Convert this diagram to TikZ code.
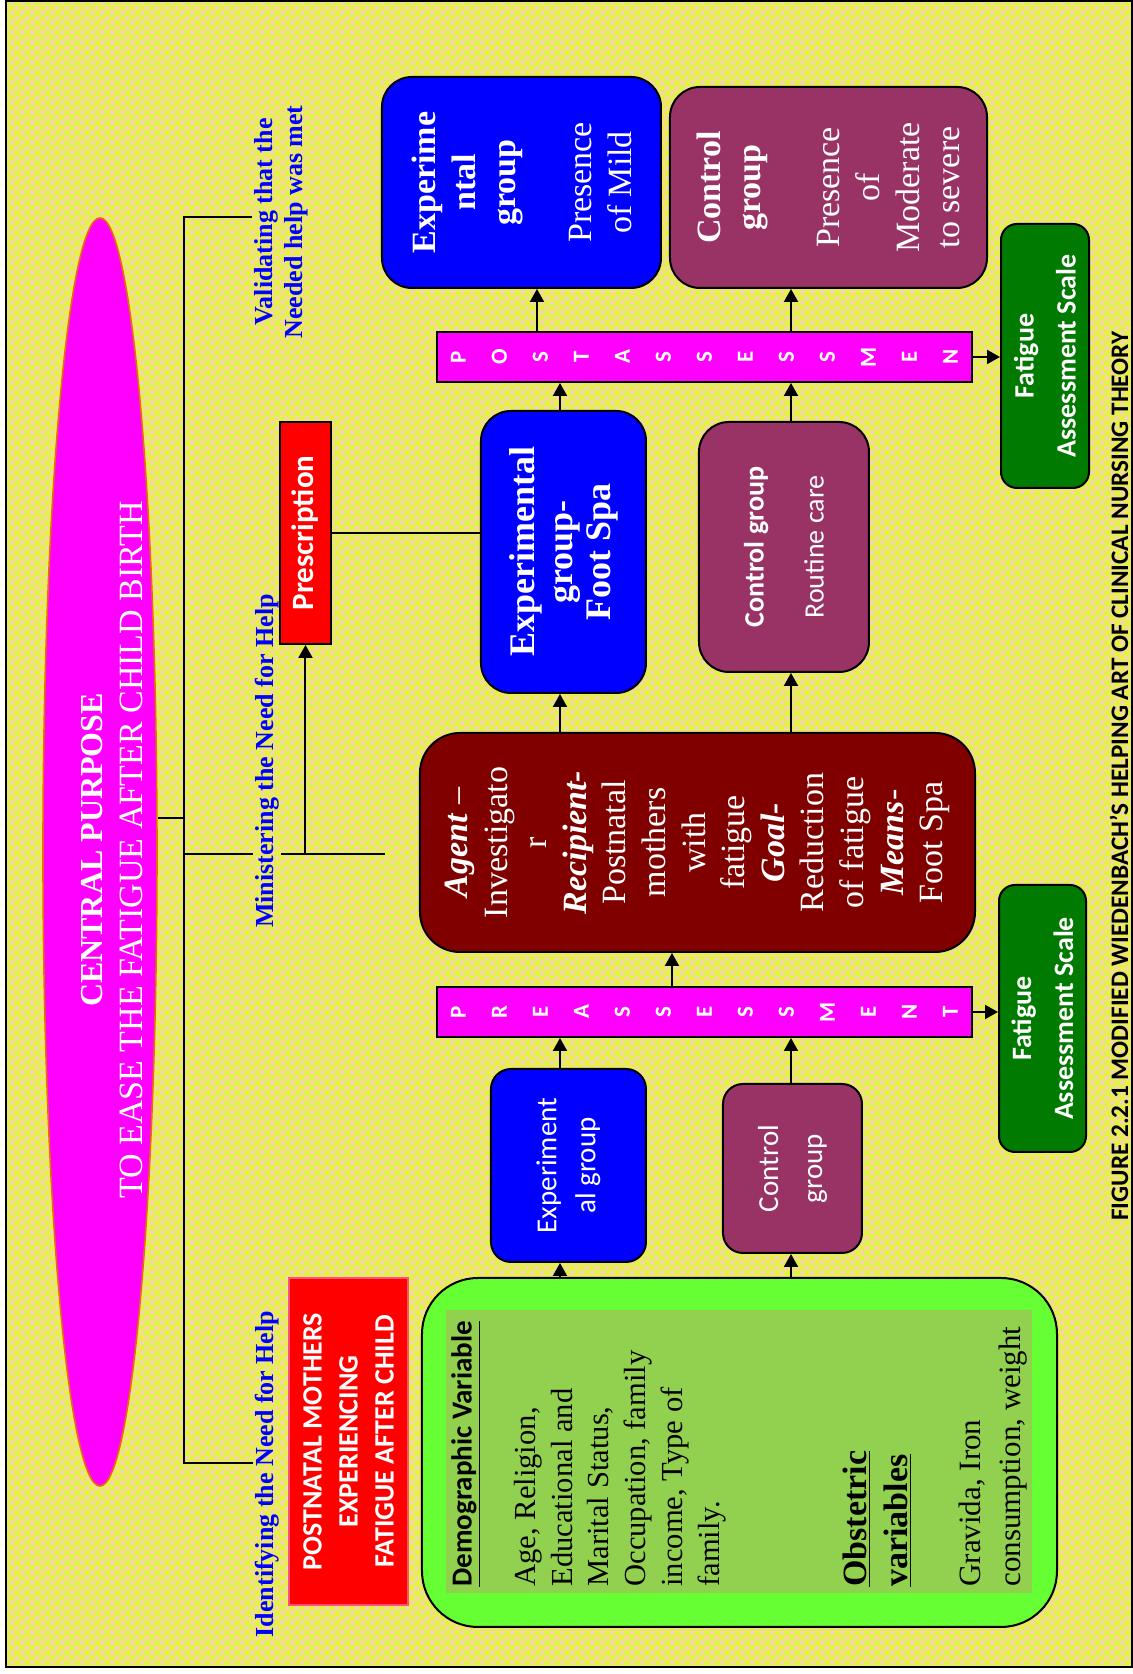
\documentclass[tikz,border=0pt]{standalone}
\usepackage{fontspec}
\setmainfont{Liberation Serif}
\setsansfont{Carlito}
\usepackage{tikz}
\usetikzlibrary{arrows.meta, positioning, shapes.geometric, patterns.meta}

\definecolor{bgyellow}{RGB}{226,245,62}
\definecolor{bgpeach}{RGB}{247,212,170}
\definecolor{pinkviolet}{RGB}{255,0,255}
\definecolor{plum}{RGB}{153,51,102}
\definecolor{agentred}{RGB}{128,0,0}
\definecolor{scalegreen}{RGB}{0,122,0}
\definecolor{limegreen}{RGB}{102,255,51}
\definecolor{olivegreen}{RGB}{146,208,80}
\definecolor{edgeorange}{RGB}{228,108,10}
\definecolor{pinkedge}{RGB}{255,80,120}

\tikzdeclarepattern{
  name=checker,
  type=uncolored,
  bounding box={(0pt,0pt) and (5pt,5pt)},
  tile size={(5pt,5pt)},
  code={
    \fill (0pt,0pt) rectangle (2.5pt,2.5pt);
    \fill (2.5pt,2.5pt) rectangle (5pt,5pt);
  }
}

\begin{document}
\begin{tikzpicture}[
            x=1pt, y=1pt,
            box/.style={draw=black, line width=1pt, rounded corners=15pt, text=white, align=center, inner sep=0pt},
            bar/.style={draw=black, line width=1pt, fill=pinkviolet, text=white, align=center, inner sep=0pt,
                        font=\sffamily\bfseries\fontsize{11.5}{20.5}\selectfont, minimum width=25pt, minimum height=267.5pt},
            scalebox/.style={box, fill=scalegreen, rounded corners=8pt, font=\sffamily\bfseries\fontsize{14}{21}\selectfont},
            help/.style={text=blue, font=\bfseries\fontsize{13}{15}\selectfont, align=center, inner sep=1pt},
            arrow/.style={-{Triangle[length=6.5pt,width=7pt]}, line width=1pt, black},
            link/.style={line width=0.9pt, black}
        ]
        \begin{scope}[rotate=90, transform shape]
        \useasboundingbox (0,0) rectangle (837,566);
        % background and frame
        \fill[bgyellow] (3.5,0) rectangle (836.5,563);
        \fill[pattern=checker, pattern color=bgpeach] (3.5,0) rectangle (836.5,563);
        \draw[line width=1.2pt] (3.5,0) rectangle (836.5,563);

        % Central purpose
        \node[ellipse, fill=pinkviolet, draw=edgeorange, line width=0.8pt, minimum width=634pt, minimum height=57pt, inner sep=0pt] (purpose) at (411,516) {};
        \node[text=white, align=center, font=\fontsize{17}{20}\selectfont] (purposetxt) at (412,510) {{\bfseries\fontsize{16}{20}\selectfont CENTRAL PURPOSE}\\TO EASE THE FATIGUE AFTER CHILD BIRTH};

        % Bracket with the three steps
        \node[help] (identify) at (100,432.5) {Identifying the Need for Help};
        \node[help] (minister) at (456.5,432.5) {Ministering the Need for Help};
        \node[help] (validate) at (726,425.5) {Validating that the\\Needed help was met};
        \coordinate (brL) at (105.5,474);
        \coordinate (brM) at (410,474);
        \coordinate (brE) at (428,474);
        \coordinate (brR) at (728.5,474);
        \coordinate (mend) at (410,373.5);

        \draw [link] (identify.north -| brL) -- (brL) -- (brR) -- (validate.north -| brR);
        \draw [link] (brE) -- (brE |- purpose.south);
        \draw [link] (brM) -- (minister.north -| brM);
        \draw [link] (minister.south -| brM) -- (mend);

        % Left column
        \node[fill=red, draw=pinkedge, line width=0.6pt, text=white, align=center, inner sep=0pt,
              font=\sffamily\bfseries\fontsize{14}{18}\selectfont, minimum width=163.5pt, minimum height=59.5pt] (mothers) at (116.25,391.75) {POSTNATAL MOTHERS\\EXPERIENCING\\FATIGUE AFTER CHILD};
        \node[draw=black, line width=1pt, fill=limegreen, rounded corners=28pt, minimum width=174.5pt, minimum height=317.5pt] (varbox) at (110.75,196.25) {};
        \node[fill=olivegreen, minimum width=141.5pt, minimum height=293pt] (panel) at (111.25,196.5) {};
        \node[anchor=west, inner sep=0pt, font=\sffamily\bfseries\fontsize{14.5}{17}\selectfont] (demo) at (43.5,333) {\underline{Demographic Variable}};
        \node[anchor=west, inner sep=0pt, align=left, font=\fontsize{15.3}{18.4}\selectfont] (demotxt) at (43.5,256) {Age, Religion,\\Educational and\\Marital Status,\\Occupation, family\\income, Type of\\family.};
        \node[anchor=west, inner sep=0pt, align=left, font=\bfseries\fontsize{17}{20.5}\selectfont] (obst) at (43.5,127.25) {\underline{Obstetric}\\\underline{variables}};
        \node[anchor=west, inner sep=0pt, align=left, font=\fontsize{15.5}{20}\selectfont] (obsttxt) at (43.5,69.5) {Gravida, Iron\\consumption, weight};

        % Groups before assessment
        \node[box, fill=blue, rounded corners=10pt, minimum width=96.5pt, minimum height=77.5pt, font=\sffamily\fontsize{14.5}{19.5}\selectfont] (expA) at (254.25,281.75) {Experiment\\al group};
        \node[box, fill=plum, rounded corners=10pt, minimum width=84.5pt, minimum height=69.5pt, font=\sffamily\fontsize{14.5}{22}\selectfont] (ctrlA) at (252.75,169.75) {Control\\group};

        % Pre assessment
        \node[bar] (pre) at (331,213.75) {P\\R\\E\\A\\S\\S\\E\\S\\S\\M\\E\\N\\T};
        \node[scalebox, minimum width=133.5pt, minimum height=43.5pt] (fatA) at (327.75,44.75) {Fatigue\\Assessment Scale};

        % Agent box
        \node[box, fill=agentred, rounded corners=20pt, minimum width=109.5pt, minimum height=277.5pt, font=\fontsize{17}{19.8}\selectfont] (agent) at (415.75,217.25) {\textbf{\textit{Agent}} –\\Investigato\\r\\\textbf{\textit{Recipient-}}\\Postnatal\\mothers\\with\\fatigue\\\textbf{\textit{Goal-}}\\Reduction\\of fatigue\\\textbf{\textit{Means}}-\\Foot Spa};

        % Prescription and intervention
        \node[fill=red, draw=black, line width=1pt, text=white, inner sep=0pt, font=\sffamily\bfseries\fontsize{15.5}{17}\selectfont, minimum width=111pt, minimum height=25.5pt] (presc) at (570.5,413.25) {Prescription};
        \node[box, fill=blue, minimum width=141pt, minimum height=82.5pt, font=\bfseries\fontsize{18}{19}\selectfont] (footspa) at (561,284.25) {Experimental\\group-\\Foot Spa};
        \node[box, fill=plum, minimum width=125pt, minimum height=85pt, font=\sffamily\fontsize{14}{30}\selectfont] (ctrlB) at (563.5,174) {\textbf{Control group}\\Routine care};

        % Post assessment
        \node[bar] (post) at (658.5,213.75) {P\\O\\S\\T\\A\\S\\S\\E\\S\\S\\M\\E\\N};
        \node[scalebox, minimum width=132pt, minimum height=44pt] (fatB) at (659,43.5) {Fatigue\\Assessment Scale};

        % Outcome
        \node[box, fill=blue, minimum width=105.5pt, minimum height=139.5pt, font=\fontsize{17}{20}\selectfont] (expC) at (745.75,305.25) {\textbf{Experime}\\\textbf{ntal}\\\textbf{group}\\[18pt]Presence\\of Mild};
        \node[box, fill=plum, minimum width=100.5pt, minimum height=158.5pt, font=\fontsize{17}{20}\selectfont] (ctrlC) at (743.25,151.75) {\textbf{Control}\\\textbf{group}\\[19.5pt]Presence\\of\\Moderate\\to severe};

        % Arrows
        \coordinate (rowE) at (0,286);
        \coordinate (rowC) at (0,170.5);
        \coordinate (rowM) at (0,297.5);
        \coordinate (rowA) at (0,230);

        \draw [arrow] (varbox.east |- rowE) -- (expA.west |- rowE);
        \draw [arrow] (varbox.east |- rowC) -- (ctrlA.west |- rowC);
        \draw [arrow] (expA.east |- rowE) -- (pre.west |- rowE);
        \draw [arrow] (ctrlA.east |- rowC) -- (pre.west |- rowC);
        \draw [arrow] (pre.east |- rowA) -- (agent.west |- rowA);
        \draw [arrow] (pre.south) -- (pre.south |- fatA.north);

        \draw [arrow] (agent.east |- rowE) -- (footspa.west |- rowE);
        \draw [arrow] (agent.east |- rowC) -- (ctrlB.west |- rowC);
        \draw [arrow] (presc.west -| brM) -- (presc.west);
        \draw [link] (presc.south) -- (presc.south |- footspa.north);

        \draw [arrow] (footspa.east |- rowE) -- (post.west |- rowE);
        \draw [arrow] (ctrlB.east |- rowC) -- (post.west |- rowC);
        \draw [arrow] (post.east |- rowM) -- (expC.west |- rowM);
        \draw [arrow] (post.east |- rowC) -- (ctrlC.west |- rowC);
        \draw [arrow] (post.south) -- (post.south |- fatB.north);

        % Caption
        \node[anchor=base, inner sep=0pt, font=\sffamily\bfseries\fontsize{12.6}{15}\selectfont] (caption) at (449,2) {FIGURE 2.2.1 MODIFIED WIEDENBACH’S HELPING ART OF CLINICAL NURSING THEORY};
        \end{scope}
\end{tikzpicture}
\end{document}
